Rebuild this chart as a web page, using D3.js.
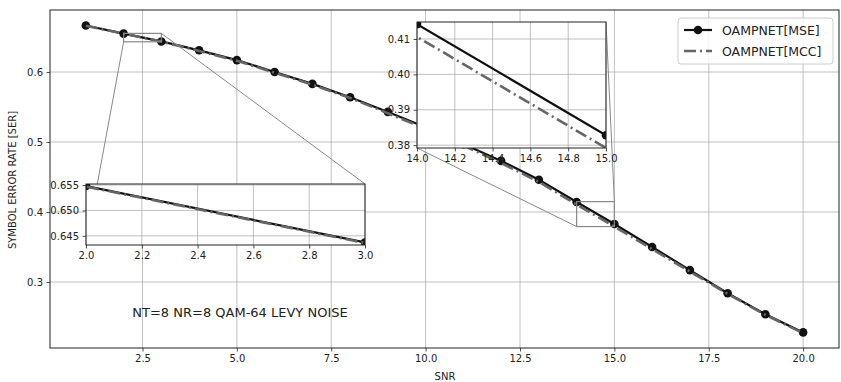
<!DOCTYPE html>
<html>
<head>
<meta charset="utf-8">
<script src="https://cdnjs.cloudflare.com/ajax/libs/d3/7.8.5/d3.min.js"></script>
<style>
  body { margin: 0; background: #fff; }
  svg { font-family: "DejaVu Sans", sans-serif; }
</style>
</head>
<body>
<svg class="chart" width="841" height="382"></svg>
<script>
var snr = [1, 2, 3, 4, 5, 6, 7, 8, 9, 10, 11, 12, 13, 14, 15, 16, 17, 18, 19, 20]
var serMSE = [0.6665, 0.6548, 0.6437, 0.631, 0.617, 0.600, 0.583, 0.564, 0.543, 0.521,
              0.497, 0.473, 0.446, 0.4142, 0.3828, 0.350, 0.317, 0.284, 0.254, 0.228]
var serMCC = [0.6662, 0.6547, 0.6436, 0.630, 0.616, 0.599, 0.582, 0.563, 0.541, 0.519,
              0.495, 0.470, 0.443, 0.4106, 0.3792, 0.347, 0.315, 0.283, 0.253, 0.227]
var xTicks = [2.5, 5.0, 7.5, 10.0, 12.5, 15.0, 17.5, 20.0]
var yTicks = [0.3, 0.4, 0.5, 0.6]
var inset1X = [2.0, 2.2, 2.4, 2.6, 2.8, 3.0]
var inset1Y = [0.645, 0.650, 0.655]
var inset2X = [14.0, 14.2, 14.4, 14.6, 14.8, 15.0]
var inset2Y = [0.38, 0.39, 0.40, 0.41]
var seriesNames = ['OAMPNET[MSE]', 'OAMPNET[MCC]']

var svg = d3.select('.chart')
var m = { left: 50, right: 839, top: 10, bottom: 348 }

var data = snr.map((s, i) => ({ x: s, mse: serMSE[i], mcc: serMCC[i] }))

var x = d3.scaleLinear().domain([0.05, 20.95]).range([m.left, m.right])
var y = d3.scaleLinear().domain([0.2057, 0.6886]).range([m.bottom, m.top])

function gridAndAxes(g, xs, ys, xt, yt, xfmt, yfmt) {
    var r = xs.range(), d = ys.range()
    g.append('rect')
        .attr('x', r[0]).attr('y', d[1])
        .attr('width', r[1] - r[0]).attr('height', d[0] - d[1])
        .attr('fill', '#fff')
    g.append('g').selectAll('line').data(xt).enter().append('line')
        .attr('x1', v => xs(v)).attr('x2', v => xs(v))
        .attr('y1', d[0]).attr('y2', d[1])
        .attr('stroke', '#b0b0b0').attr('stroke-width', 0.8)
    g.append('g').selectAll('line').data(yt).enter().append('line')
        .attr('y1', v => ys(v)).attr('y2', v => ys(v))
        .attr('x1', r[0]).attr('x2', r[1])
        .attr('stroke', '#b0b0b0').attr('stroke-width', 0.8)

    var ax = g.append('g').attr('transform', 'translate(0,' + d[0] + ')')
        .call(d3.axisBottom(xs).tickValues(xt).tickFormat(xfmt).tickSize(3.5).tickPadding(3.5))
    var ay = g.append('g').attr('transform', 'translate(' + r[0] + ',0)')
        .call(d3.axisLeft(ys).tickValues(yt).tickFormat(yfmt).tickSize(3.5).tickPadding(3.5))
    ;[ax, ay].forEach(a => {
        a.select('.domain').remove()
        a.selectAll('text').attr('font-size', 10).attr('fill', '#222')
            .attr('font-family', '"DejaVu Sans", sans-serif')
        a.selectAll('line').attr('stroke', '#222').attr('stroke-width', 0.8)
    })
}

function drawLines(g, xs, ys, clipId) {
    var r = xs.range(), d = ys.range()
    g.append('clipPath').attr('id', clipId).append('rect')
        .attr('x', r[0]).attr('y', d[1]).attr('width', r[1] - r[0]).attr('height', d[0] - d[1])
    var lg = g.append('g').attr('clip-path', 'url(#' + clipId + ')')
    lg.append('path').datum(data)
        .attr('d', d3.line().x(p => xs(p.x)).y(p => ys(p.mse)))
        .attr('fill', 'none').attr('stroke', '#111').attr('stroke-width', 2.2)
    lg.selectAll('circle.mk').data(data).enter().append('circle')
        .attr('class', 'mk')
        .attr('cx', p => xs(p.x)).attr('cy', p => ys(p.mse))
        .attr('r', 4.3).attr('fill', '#111')
    lg.append('path').datum(data)
        .attr('d', d3.line().x(p => xs(p.x)).y(p => ys(p.mcc)))
        .attr('fill', 'none').attr('stroke', '#666').attr('stroke-width', 2.6)
        .attr('stroke-dasharray', '12,4,2,4')
}

function frame(g, xs, ys) {
    var r = xs.range(), d = ys.range()
    g.append('rect')
        .attr('x', r[0]).attr('y', d[1]).attr('width', r[1] - r[0]).attr('height', d[0] - d[1])
        .attr('fill', 'none').attr('stroke', '#222').attr('stroke-width', 1)
}

// main axes
var main = svg.append('g')
gridAndAxes(main, x, y, xTicks, yTicks, d3.format('.1f'), d3.format('.1f'))
drawLines(main, x, y, 'clipMain')

// inset scales
var x1 = d3.scaleLinear().domain([2, 3]).range([86, 365])
var y1 = d3.scaleLinear().domain([0.6432, 0.6552]).range([245, 184])
var x2 = d3.scaleLinear().domain([14, 15]).range([417, 606])
var y2 = d3.scaleLinear().domain([0.3792, 0.4148]).range([148, 22])

// zoom boxes + connectors (lower-left and upper-right corners)
function markInset(xs, ys) {
    var dx = xs.domain(), dy = ys.domain()
    var rx0 = x(dx[0]), rx1 = x(dx[1]), ry0 = y(dy[0]), ry1 = y(dy[1])
    main.append('rect')
        .attr('x', rx0).attr('y', ry1).attr('width', rx1 - rx0).attr('height', ry0 - ry1)
        .attr('fill', 'none').attr('stroke', '#888').attr('stroke-width', 1.2)
    var ix = xs.range(), iy = ys.range()
    main.append('line').attr('x1', rx0).attr('y1', ry0).attr('x2', ix[0]).attr('y2', iy[0])
        .attr('stroke', '#888').attr('stroke-width', 1)
    main.append('line').attr('x1', rx1).attr('y1', ry1).attr('x2', ix[1]).attr('y2', iy[1])
        .attr('stroke', '#888').attr('stroke-width', 1)
}
markInset(x1, y1)
markInset(x2, y2)
frame(main, x, y)

main.append('text').attr('x', 240).attr('y', 317).attr('text-anchor', 'middle')
    .attr('font-size', 13).attr('fill', '#222').text('NT=8 NR=8 QAM-64 LEVY NOISE')

main.append('text').attr('x', 445).attr('y', 380).attr('text-anchor', 'middle')
    .attr('font-size', 10).attr('fill', '#222').text('SNR')
main.append('text').attr('transform', 'translate(16,180) rotate(-90)')
    .attr('text-anchor', 'middle').attr('font-size', 10).attr('fill', '#222')
    .text('SYMBOL ERROR RATE [SER]')

// insets
var in1 = svg.append('g')
gridAndAxes(in1, x1, y1, inset1X, inset1Y, d3.format('.1f'), d3.format('.3f'))
drawLines(in1, x1, y1, 'clip1')
frame(in1, x1, y1)

var in2 = svg.append('g')
gridAndAxes(in2, x2, y2, inset2X, inset2Y, d3.format('.1f'), d3.format('.2f'))
drawLines(in2, x2, y2, 'clip2')
frame(in2, x2, y2)

// legend
var leg = svg.append('g').attr('transform', 'translate(678,18)')
leg.append('rect').attr('width', 155).attr('height', 46).attr('rx', 3)
    .attr('fill', '#fff').attr('fill-opacity', 0.8).attr('stroke', '#ccc')
var styles = [
    { c: '#111', w: 2.2, dash: null, mk: true },
    { c: '#666', w: 2.6, dash: '12,4,2,4', mk: false }
]
seriesNames.forEach((n, i) => {
    var ly = 12 + i * 21
    var s = styles[i]
    var ln = leg.append('line').attr('x1', 6).attr('x2', 34).attr('y1', ly).attr('y2', ly)
        .attr('stroke', s.c).attr('stroke-width', s.w)
    if (s.dash) ln.attr('stroke-dasharray', s.dash)
    if (s.mk) leg.append('circle').attr('cx', 20).attr('cy', ly).attr('r', 4.3).attr('fill', s.c)
    leg.append('text').attr('x', 44).attr('y', ly + 4.5).attr('font-size', 12.5)
        .attr('fill', '#222').text(n)
})
</script>
</body>
</html>
